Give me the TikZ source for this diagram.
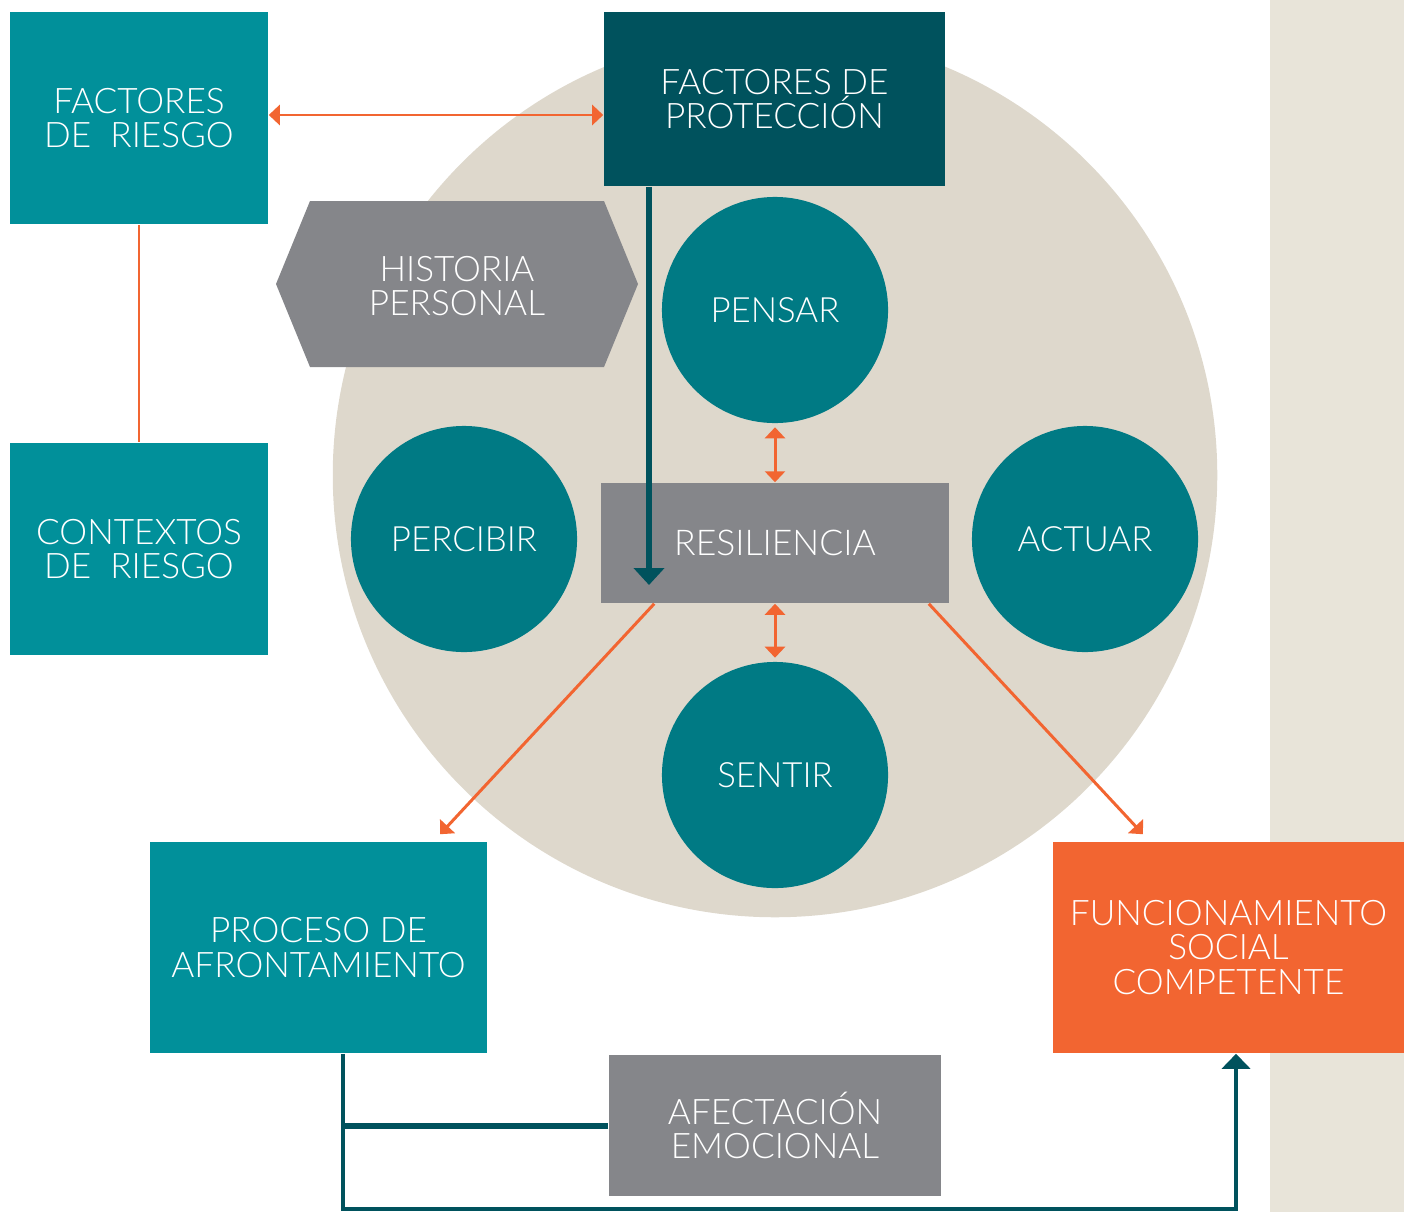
\documentclass[tikz,border=0pt]{standalone}
\usepackage{fontspec}
\setmainfont{Lato Light}
\usetikzlibrary{arrows.meta}
\definecolor{riesgoteal}{HTML}{01909A}
\definecolor{ballteal}{HTML}{007A84}
\definecolor{darkteal}{HTML}{00525D}
\definecolor{boxgray}{HTML}{85868A}
\definecolor{accent}{HTML}{F26531}
\definecolor{circbg}{HTML}{DED8CC}
\definecolor{stripbg}{HTML}{E8E4D9}
\tikzset{
  box/.style={fill=#1,text=white,align=center,inner sep=0pt,font=\fontsize{10}{9.8}\selectfont},
  ball/.style={circle,fill=ballteal,text=white,inner sep=0pt,minimum size=2.26cm,font=\fontsize{9.9}{10}\selectfont},
  oline/.style={accent,line width=0.85pt},
  oarrow/.style={oline,{Triangle[width=0.2cm,length=0.11cm]}-{Triangle[width=0.2cm,length=0.11cm]}},
  tline/.style={darkteal,line width=1.3pt}
}
\begin{document}
\begin{tikzpicture}[x=0.01cm,y=-0.01cm]
\useasboundingbox (0,0) rectangle (1404,1212);
\fill[stripbg] (1270,0) rectangle (1404,1212);
\fill[circbg] (775,475) circle (4.42cm);
% boxes
\node[box=riesgoteal,minimum width=2.58cm,minimum height=2.12cm] (riesgo) at (139,118) {FACTORES\\DE\ \ RIESGO};
\node[box=riesgoteal,minimum width=2.58cm,minimum height=2.12cm] (contextos) at (139,549) {CONTEXTOS\\DE\ \ RIESGO};
\node[box=darkteal,minimum width=3.41cm,minimum height=1.74cm] (proteccion) at (774.5,99) {FACTORES DE\\PROTECCIÓN};
\fill[boxgray] (276,284) -- (310,201) -- (604,201) -- (638,284) -- (604,367) -- (310,367) -- cycle;
\node[box=boxgray,fill=none] (historia) at (457,286) {HISTORIA\\PERSONAL};
\node[box=boxgray,minimum width=3.48cm,minimum height=1.2cm,font=\fontsize{10.1}{10}\selectfont] (resiliencia) at (775,543) {RESILIENCIA};
\node[box=riesgoteal,minimum width=3.37cm,minimum height=2.11cm] (proceso) at (318.5,947.5) {PROCESO DE\\AFRONTAMIENTO};
\node[box=accent,minimum width=3.51cm,minimum height=2.11cm] (funcionamiento) at (1228.5,947.5) {FUNCIONAMIENTO\\SOCIAL\\COMPETENTE};
\node[box=boxgray,minimum width=3.32cm,minimum height=1.41cm] (afectacion) at (775,1125.5) {AFECTACIÓN\\EMOCIONAL};
% circles
\foreach \n/\t/\x/\y in {pensar/PENSAR/775/310, percibir/PERCIBIR/464/539, actuar/ACTUAR/1085/539, sentir/SENTIR/775/775}
  \node[ball] (\n) at (\x,\y) {\t};
% connectors
\draw[oarrow] ([yshift=0.03cm]riesgo.east) -- ([yshift=0.03cm]riesgo.east -| proteccion.west);
\draw[oline] (riesgo) -- (contextos);
\coordinate (pin) at (649,585);
\draw[tline,line width=1.5pt,-{Triangle[width=0.3cm,length=0.17cm]}] (proteccion.south -| pin) -- (pin);
\draw[oarrow,shorten <=1pt] (pensar) -- (resiliencia);
\draw[oarrow,shorten >=1pt] (resiliencia) -- (sentir);
\draw[oline,-{Triangle[width=0.2cm,length=0.11cm]}] ([xshift=0.54cm]resiliencia.south west) -- ([xshift=1.215cm,yshift=0.07cm]proceso.north);
\draw[oline,-{Triangle[width=0.2cm,length=0.11cm]}] ([xshift=-0.21cm]resiliencia.south east) -- ([xshift=-0.855cm,yshift=0.07cm]funcionamiento.north);
\coordinate (start) at ([xshift=0.245cm]proceso.south);
\coordinate (fin) at ([xshift=0.075cm]funcionamiento.south);
\draw[tline,-{Triangle[width=0.28cm,length=0.15cm]}] (start) -- ++(0,155) -| (fin);
\draw[tline,line width=1.7pt] (afectacion) -- (afectacion -| start);
\end{tikzpicture}
\end{document}
